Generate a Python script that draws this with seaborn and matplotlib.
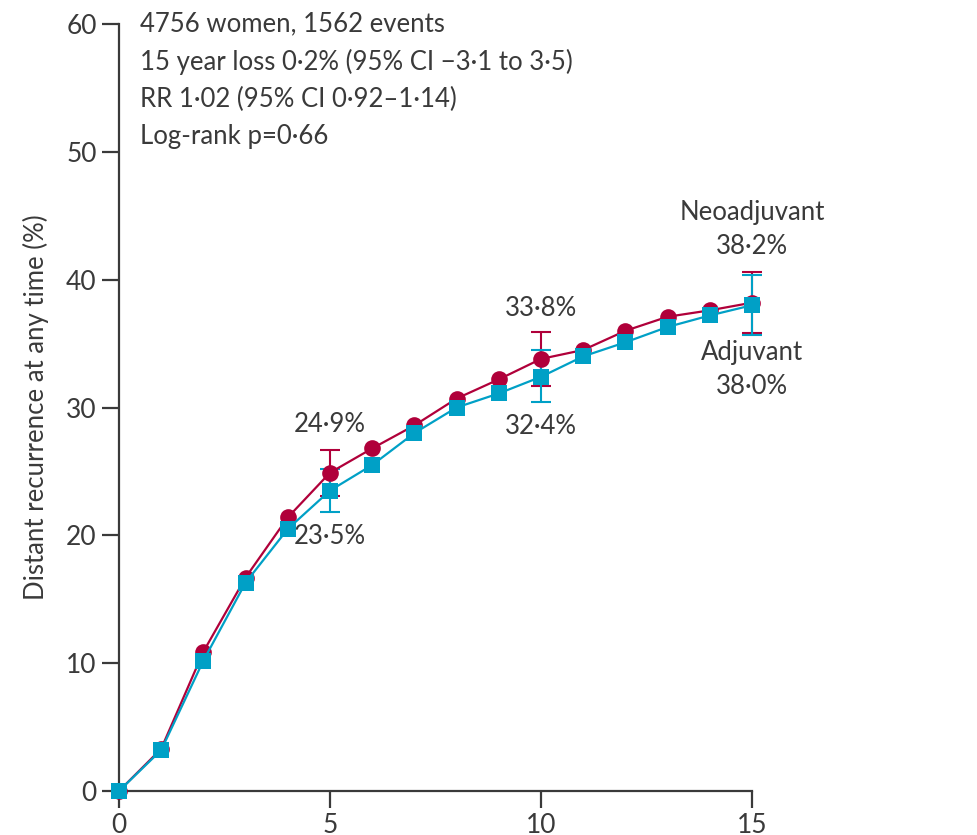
import matplotlib
matplotlib.use("Agg")
import matplotlib.pyplot as plt
import seaborn as sns
import pandas as pd

# Years of follow-up
years = list(range(16))

# Cumulative distant recurrence (%) by allocated treatment
neoadjuvant = [0.0, 3.3, 10.9, 16.7, 21.4, 24.9, 26.8, 28.6, 30.7, 32.2,
               33.8, 34.5, 36.0, 37.1, 37.6, 38.2]
adjuvant = [0.0, 3.2, 10.2, 16.3, 20.5, 23.5, 25.5, 28.0, 30.0, 31.1,
            32.4, 34.0, 35.1, 36.3, 37.2, 38.0]

# 95% confidence intervals shown at 5, 10 and 15 years
ci_years = [5, 10, 15]
neo_ci_low = [23.1, 31.7, 35.8]
neo_ci_high = [26.7, 35.9, 40.6]
adj_ci_low = [21.8, 30.4, 35.7]
adj_ci_high = [25.2, 34.5, 40.4]

summary_lines = [
    "4756 women, 1562 events",
    "15 year loss 0·2% (95% CI \u22123·1 to 3·5)",
    "RR 1·02 (95% CI 0·92\u20131·14)",
    "Log-rank p=0·66",
]

RED = "#b0003a"
BLUE = "#00a0c6"
INK = "#3a3a3a"

sns.set_theme(style="white")
plt.rcParams["font.family"] = ["Lato", "DejaVu Sans"]

fig = plt.figure(figsize=(9.78, 8.35), dpi=100)
ax = fig.add_axes([119 / 978, 1 - 791 / 835, (752 - 119) / 978, (791 - 24) / 835])

df = pd.DataFrame({
    "year": years * 2,
    "risk": neoadjuvant + adjuvant,
    "arm": ["Neoadjuvant"] * len(years) + ["Adjuvant"] * len(years),
})

# Error bars drawn below the curves
yrs_idx = [years.index(y) for y in ci_years]
neo_mid = [neoadjuvant[i] for i in yrs_idx]
adj_mid = [adjuvant[i] for i in yrs_idx]
ax.errorbar(ci_years, neo_mid,
            yerr=[[m - l for m, l in zip(neo_mid, neo_ci_low)],
                  [h - m for m, h in zip(neo_mid, neo_ci_high)]],
            fmt="none", ecolor=RED, elinewidth=1.5, capsize=7, capthick=1.5,
            clip_on=False, zorder=2)
ax.errorbar(ci_years, adj_mid,
            yerr=[[m - l for m, l in zip(adj_mid, adj_ci_low)],
                  [h - m for m, h in zip(adj_mid, adj_ci_high)]],
            fmt="none", ecolor=BLUE, elinewidth=1.5, capsize=7, capthick=1.5,
            clip_on=False, zorder=2)

sns.lineplot(data=df[df.arm == "Neoadjuvant"], x="year", y="risk", ax=ax,
             color=RED, marker="o", markersize=12, markeredgewidth=0,
             linewidth=1.6, clip_on=False, zorder=3)
sns.lineplot(data=df[df.arm == "Adjuvant"], x="year", y="risk", ax=ax,
             color=BLUE, marker="s", markersize=12, markeredgewidth=0,
             linewidth=1.6, clip_on=False, zorder=4)

ax.set_xlim(0, 15)
ax.set_ylim(0, 60)
ax.set_xticks([0, 5, 10, 15])
ax.set_yticks(range(0, 61, 10))
ax.set_xlabel("")
ax.set_ylabel("Distant recurrence at any time (%)", fontsize=18.5, color=INK,
              labelpad=12)

for side in ["top", "right"]:
    ax.spines[side].set_visible(False)
for side in ["left", "bottom"]:
    ax.spines[side].set_color(INK)
    ax.spines[side].set_linewidth(1.6)
ax.tick_params(axis="both", direction="out", length=12, width=1.6,
               color=INK, labelcolor=INK, labelsize=19, left=True, bottom=True,
               pad=4)

fs = 18.5
ax.text(0.5, 61.0, "\n".join(summary_lines), ha="left", va="top",
        fontsize=fs, color=INK, linespacing=1.6)

label_kw = dict(ha="center", fontsize=fs, color=INK)
ax.text(5, neo_ci_high[0] + 1.0, "24·9%", va="bottom", **label_kw)
ax.text(5, adj_ci_low[0] - 0.9, "23·5%", va="top", **label_kw)
ax.text(10, neo_ci_high[1] + 0.9, "33·8%", va="bottom", **label_kw)
ax.text(10, adj_ci_low[1] - 0.9, "32·4%", va="top", **label_kw)
ax.text(15.0, neo_ci_high[2] + 1.0, "Neoadjuvant\n38·2%", va="bottom",
        linespacing=1.45, **label_kw)
ax.text(15.0, adj_ci_low[2] - 0.4, "Adjuvant\n38·0%", va="top",
        linespacing=1.45, **label_kw)

fig.savefig("out.png", dpi=100)
